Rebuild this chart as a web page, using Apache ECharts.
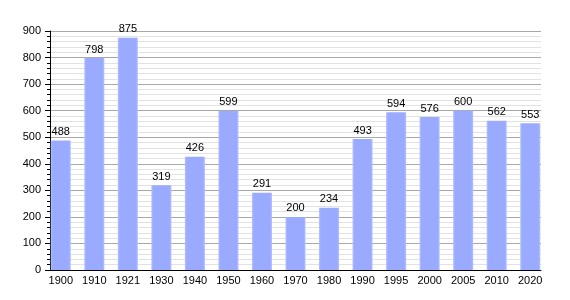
<!DOCTYPE html>
<html>
<head>
<meta charset="utf-8">
<script src="https://cdn.jsdelivr.net/npm/echarts@6/dist/echarts.min.js"></script>
<style>
  html, body { margin: 0; padding: 0; background: #fff; }
  #chart { width: 570px; height: 300px; }
</style>
</head>
<body>
<div id="chart"></div>
<script>
const years = ['1900', '1910', '1921', '1930', '1940', '1950', '1960', '1970', '1980', '1990', '1995', '2000', '2005', '2010', '2020'];
const population = [488, 798, 875, 319, 426, 599, 291, 200, 234, 493, 594, 576, 600, 562, 553];
const yTicks = { min: 0, max: 900, interval: 100 };

const chart = echarts.init(document.getElementById('chart'));

// bar fill, slightly lighter at the edges like the original
const barColor = new echarts.graphic.LinearGradient(0, 0, 1, 0, [
  { offset: 0, color: '#b3c0ff' },
  { offset: 0.1, color: '#99aaff' },
  { offset: 0.9, color: '#99aaff' },
  { offset: 1, color: '#b3c0ff' }
]);

const option = {
  animation: false,
  textStyle: { fontFamily: 'Liberation Sans, Arial, sans-serif' },
  grid: [
    // axes + gridlines
    { left: 50, right: 29, top: 31, bottom: 30 },
    // bars (slots shifted so bars sit left in each column)
    { left: 44, right: 23, top: 31, bottom: 30 }
  ],
  xAxis: [
    {
      gridIndex: 0,
      type: 'category',
      data: years,
      axisLine: { lineStyle: { color: '#000', width: 1 } },
      axisTick: { show: false },
      axisLabel: { show: false },
      splitLine: { show: false }
    },
    {
      gridIndex: 1,
      type: 'category',
      data: years,
      axisLine: { show: false },
      axisTick: { show: false },
      axisLabel: { color: '#000', fontSize: 11, margin: 5 }
    }
  ],
  yAxis: [
    {
      gridIndex: 0,
      type: 'value',
      min: yTicks.min,
      max: yTicks.max,
      interval: yTicks.interval,
      axisLine: { show: true, lineStyle: { color: '#000', width: 1 } },
      axisTick: { show: true, length: 5, lineStyle: { color: '#000' } },
      minorTick: { show: true, splitNumber: 5, length: 3, lineStyle: { color: '#000' } },
      axisLabel: { color: '#000', fontSize: 11, margin: 9 },
      splitLine: { show: true, lineStyle: { color: '#a8a8a8', width: 1 } },
      minorSplitLine: { show: true, lineStyle: { color: '#e2e2e2', width: 1 } }
    },
    {
      gridIndex: 1,
      type: 'value',
      min: yTicks.min,
      max: yTicks.max,
      show: false,
      splitLine: { show: false }
    }
  ],
  series: [
    {
      type: 'bar',
      xAxisIndex: 1,
      yAxisIndex: 1,
      data: population,
      barWidth: 20,
      itemStyle: { color: barColor },
      label: {
        show: true,
        position: 'top',
        distance: 3,
        color: '#000',
        fontSize: 11
      }
    }
  ]
};

chart.setOption(option);
</script>
</body>
</html>
